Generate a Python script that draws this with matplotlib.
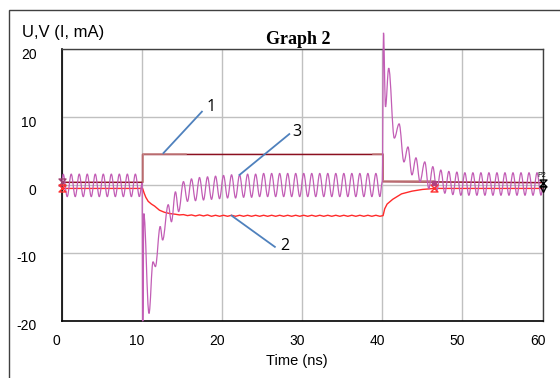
import numpy as np
import matplotlib
matplotlib.use("Agg")
import matplotlib.pyplot as plt
import matplotlib.transforms as mtransforms
from matplotlib.path import Path
from matplotlib.patches import Rectangle, PathPatch

plt.rcParams['font.family'] = ['Liberation Sans', 'DejaVu Sans']
plt.rcParams['axes.unicode_minus'] = False

# --- data ---
# curve 1 (step, dark red)
t1 = [0.0, 10.1, 10.1, 40.1, 40.1, 60.0]
v1 = [0.4, 0.4, 4.5, 4.5, 0.5, 0.35]

# lighter overlay seen on parts of curve 1
t1b = [10.1, 10.1, 15.5]
v1b = [0.4, 4.5, 4.5]
t1c = [38.9, 40.1, 40.1, 46.5]
v1c = [4.5, 4.5, 0.6, 0.6]

# curve 2 (red)
t2 = [0.0, 10.1, 10.3, 10.5, 10.8, 11.2, 11.6, 12.2, 12.8, 13.5, 14.2, 14.7,
      15.2, 15.7, 16.2, 16.7, 17.2, 17.7, 18.2, 18.7, 19.2, 19.7,
      20.2, 20.7, 21.2, 21.7, 22.2, 22.7, 23.2, 23.7, 24.2, 24.7,
      25.2, 25.7, 26.2, 26.7, 27.2, 27.7, 28.2, 28.7, 29.2, 29.7,
      30.2, 30.7, 31.2, 31.7, 32.2, 32.7, 33.2, 33.7, 34.2, 34.7,
      35.2, 35.7, 36.2, 36.7, 37.2, 37.7, 38.2, 38.7, 39.2, 39.7,
      40.1, 40.3, 40.6, 41.3, 42.4, 43.7, 45.0, 46.5, 60.0]
v2 = [-0.5, -0.5, -1.2, -1.8, -2.4, -2.8, -3.1, -3.7, -4.0, -4.2, -4.3, -4.4,
      -4.35, -4.5, -4.4, -4.55, -4.4, -4.55, -4.4, -4.6, -4.45, -4.6,
      -4.45, -4.6, -4.45, -4.6, -4.45, -4.6, -4.45, -4.6, -4.45, -4.6,
      -4.45, -4.6, -4.45, -4.6, -4.45, -4.6, -4.45, -4.6, -4.45, -4.6,
      -4.45, -4.6, -4.45, -4.6, -4.45, -4.6, -4.45, -4.6, -4.45, -4.6,
      -4.45, -4.6, -4.45, -4.6, -4.45, -4.6, -4.45, -4.6, -4.45, -4.6,
      -4.5, -3.5, -2.8, -2.1, -1.3, -0.9, -0.65, -0.5, -0.5]

# curve 3 (oscillating, magenta) - peaks and troughs
t3 = [0.0, 0.2, 0.7, 1.2, 1.7, 2.2, 2.7, 3.2, 3.7, 4.2, 4.7,
      5.2, 5.7, 6.2, 6.7, 7.2, 7.7, 8.2, 8.7, 9.2, 9.7,
      10.05, 10.1, 10.15, 10.25, 10.9, 11.4, 11.7, 12.3, 12.6, 13.3, 13.7, 14.2, 14.6,
      15.2, 15.7, 16.2, 16.7, 17.2, 17.7, 18.2, 18.7, 19.2, 19.7,
      20.2, 20.7, 21.2, 21.7, 22.2, 22.7, 23.2, 23.7, 24.2, 24.7,
      25.2, 25.7, 26.2, 26.7, 27.2, 27.7, 28.2, 28.7, 29.2, 29.7,
      30.2, 30.7, 31.2, 31.7, 32.2, 32.7, 33.2, 33.7, 34.2, 34.7,
      35.2, 35.7, 36.2, 36.7, 37.2, 37.7, 38.2, 38.7, 39.2, 39.7,
      40.0, 40.15, 40.4, 40.8, 41.5, 42.1, 42.7, 43.2, 43.7, 44.2, 44.7,
      45.3, 45.8, 46.3, 46.8, 47.3, 47.8, 48.3, 48.8, 49.3, 49.8,
      50.3, 50.8, 51.3, 51.8, 52.3, 52.8, 53.3, 53.8, 54.3, 54.8,
      55.3, 55.8, 56.3, 56.8, 57.3, 57.8, 58.3, 58.8, 59.3, 59.8, 60.0]
v3 = [0.0, 1.6, -1.7, 1.6, -1.7, 1.6, -1.7, 1.6, -1.7, 1.6, -1.7,
      1.6, -1.7, 1.6, -1.7, 1.6, -1.7, 1.6, -1.7, 1.6, -1.7,
      0.3, -20.0, -20.0, -4.2, -18.9, -11.3, -12.0, -6.1, -8.1, -2.9, -5.4, -1.0, -3.9,
      0.5, -2.4, 0.9, -2.3, 1.1, -2.2, 1.2, -2.1, 1.3, -2.0,
      1.4, -1.9, 1.5, -1.9, 1.5, -1.8, 1.6, -1.8, 1.6, -1.7,
      1.7, -1.7, 1.7, -1.7, 1.7, -1.7, 1.7, -1.7, 1.7, -1.7,
      1.7, -1.7, 1.7, -1.7, 1.7, -1.7, 1.7, -1.7, 1.7, -1.7,
      1.7, -1.7, 1.7, -1.7, 1.7, -1.7, 1.7, -1.7, 1.7, -1.7,
      0.5, 22.4, 11.5, 17.2, 6.9, 9.0, 3.4, 5.6, 1.5, 4.0, 0.5,
      3.4, -0.5, 2.7, -0.8, 2.2, -1.2, 2.0, -1.4, 1.9, -1.5,
      1.8, -1.5, 1.8, -1.5, 1.8, -1.5, 1.8, -1.5, 1.8, -1.5,
      1.8, -1.5, 1.8, -1.5, 1.8, -1.5, 1.8, -1.5, 1.8, -1.5, -0.5]

# annotation leaders: (label, line start, line end, label position)
labels = ['1', '3', '2']
lead_start = [(12.7, 4.7), (22.2, 1.5), (21.2, -4.5)]
lead_end = [(17.5, 10.8), (28.4, 7.5), (26.6, -9.1)]
label_pos = [(18.6, 11.5), (29.4, 7.8), (27.9, -9.0)]

xticks = [0, 10, 20, 30, 40, 50, 60]
yticks = [-20, -10, 0, 10, 20]

# hourglass marker
hourglass = Path([(-1, -1), (1, -1), (-1, 1), (1, 1), (-1, -1)],
                 [Path.MOVETO, Path.LINETO, Path.LINETO, Path.LINETO, Path.CLOSEPOLY])


def smooth_path(t, v):
    # cubic segments with flat tangents at each extremum (sine-like drawing)
    verts = [(t[0], v[0])]
    codes = [Path.MOVETO]
    for i in range(1, len(t)):
        dt = t[i] - t[i - 1]
        verts += [(t[i - 1] + 0.364 * dt, v[i - 1]),
                  (t[i] - 0.364 * dt, v[i]),
                  (t[i], v[i])]
        codes += [Path.CURVE4] * 3
    return Path(verts, codes)


fig = plt.figure(figsize=(5.6, 3.78), dpi=100)
ax = fig.add_axes([0.110, 0.151, 0.859, 0.719])

# outer frame (only left and top edges visible)
fig.patches.append(Rectangle((9 / 560, -0.2), 1.2, 1.2 - 10 / 378,
                             transform=fig.transFigure, fill=False,
                             edgecolor='#404040', linewidth=1.0))

ax.set_xlim(0, 60)
ax.set_ylim(-20, 20)
ax.set_xticks(xticks)
ax.set_yticks(yticks)
ax.grid(True, color='#C0C0C0', linewidth=1.0)
ax.set_axisbelow(True)
ax.tick_params(length=0, labelsize=10, colors='black')
ax.tick_params(axis='y', pad=18)
ax.tick_params(axis='x', pad=9.5)
for s in ['left', 'bottom']:
    ax.spines[s].set_color('black')
    ax.spines[s].set_linewidth(1.2)
for s in ['top', 'right']:
    ax.spines[s].set_color('#404040')
    ax.spines[s].set_linewidth(1.0)

off_x = mtransforms.ScaledTranslation(-5 / 100, 0, fig.dpi_scale_trans)
off_y = mtransforms.ScaledTranslation(0, -4 / 100, fig.dpi_scale_trans)
for lab in ax.get_xticklabels():
    lab.set_transform(lab.get_transform() + off_x)
for lab in ax.get_yticklabels():
    lab.set_transform(lab.get_transform() + off_y)

ax.plot(t1, v1, color='#8C1020', linewidth=1.1, zorder=3)
ax.plot(t1b, v1b, color='#C88888', linewidth=1.1, zorder=3)
ax.plot(t1c, v1c, color='#C88888', linewidth=1.1, zorder=3)
ax.plot(t2, v2, color='#FF2A2A', linewidth=1.0, zorder=4)
ax.add_patch(PathPatch(smooth_path(t3, v3), fill=False, edgecolor='#C25DB5',
                       linewidth=0.9, zorder=5, clip_on=False))

# markers
ax.plot([0], [0.4], marker=hourglass, markersize=5, color='#A04070',
        markerfacecolor='none', linestyle='none', zorder=6, clip_on=False)
ax.plot([0, 46.5], [-0.5, -0.5], marker=hourglass, markersize=5, color='#FF3030',
        markerfacecolor='none', linestyle='none', zorder=6, clip_on=False)
ax.plot([46.5], [0.35], marker='s', markersize=2.5, color='#B04080',
        linestyle='none', zorder=6)
ax.plot([60], [0.3], marker=hourglass, markersize=5, color='black',
        markerfacecolor='none', linestyle='none', zorder=6, clip_on=False)
ax.plot([60], [-0.6], marker='v', markersize=4, color='black',
        markerfacecolor='none', linestyle='none', zorder=6, clip_on=False)
ax.text(59.3, 1.2, 'P2', fontsize=5, color='black', zorder=7, clip_on=False)

for lab, p0, p1, pl in zip(labels, lead_start, lead_end, label_pos):
    ax.plot([p0[0], p1[0]], [p0[1], p1[1]], color='#4F81BD', linewidth=1.3, zorder=7)
    ax.text(pl[0], pl[1], lab, fontsize=11.5, ha='center', va='center',
            family=['Open Sans', 'DejaVu Sans'], color='black', zorder=8)

fig.text(298 / 560, 1 - 40 / 378, 'Graph 2', fontsize=13, fontweight='bold',
         family=['Liberation Serif', 'DejaVu Serif'], ha='center', va='center')
fig.text(22 / 560, 1 - 32 / 378, 'U,V (I, mA)', fontsize=12, ha='left', va='center')
fig.text(297 / 560, 1 - 361 / 378, 'Time (ns)', fontsize=10.5, ha='center', va='center')

fig.savefig('out.png', dpi=100)
